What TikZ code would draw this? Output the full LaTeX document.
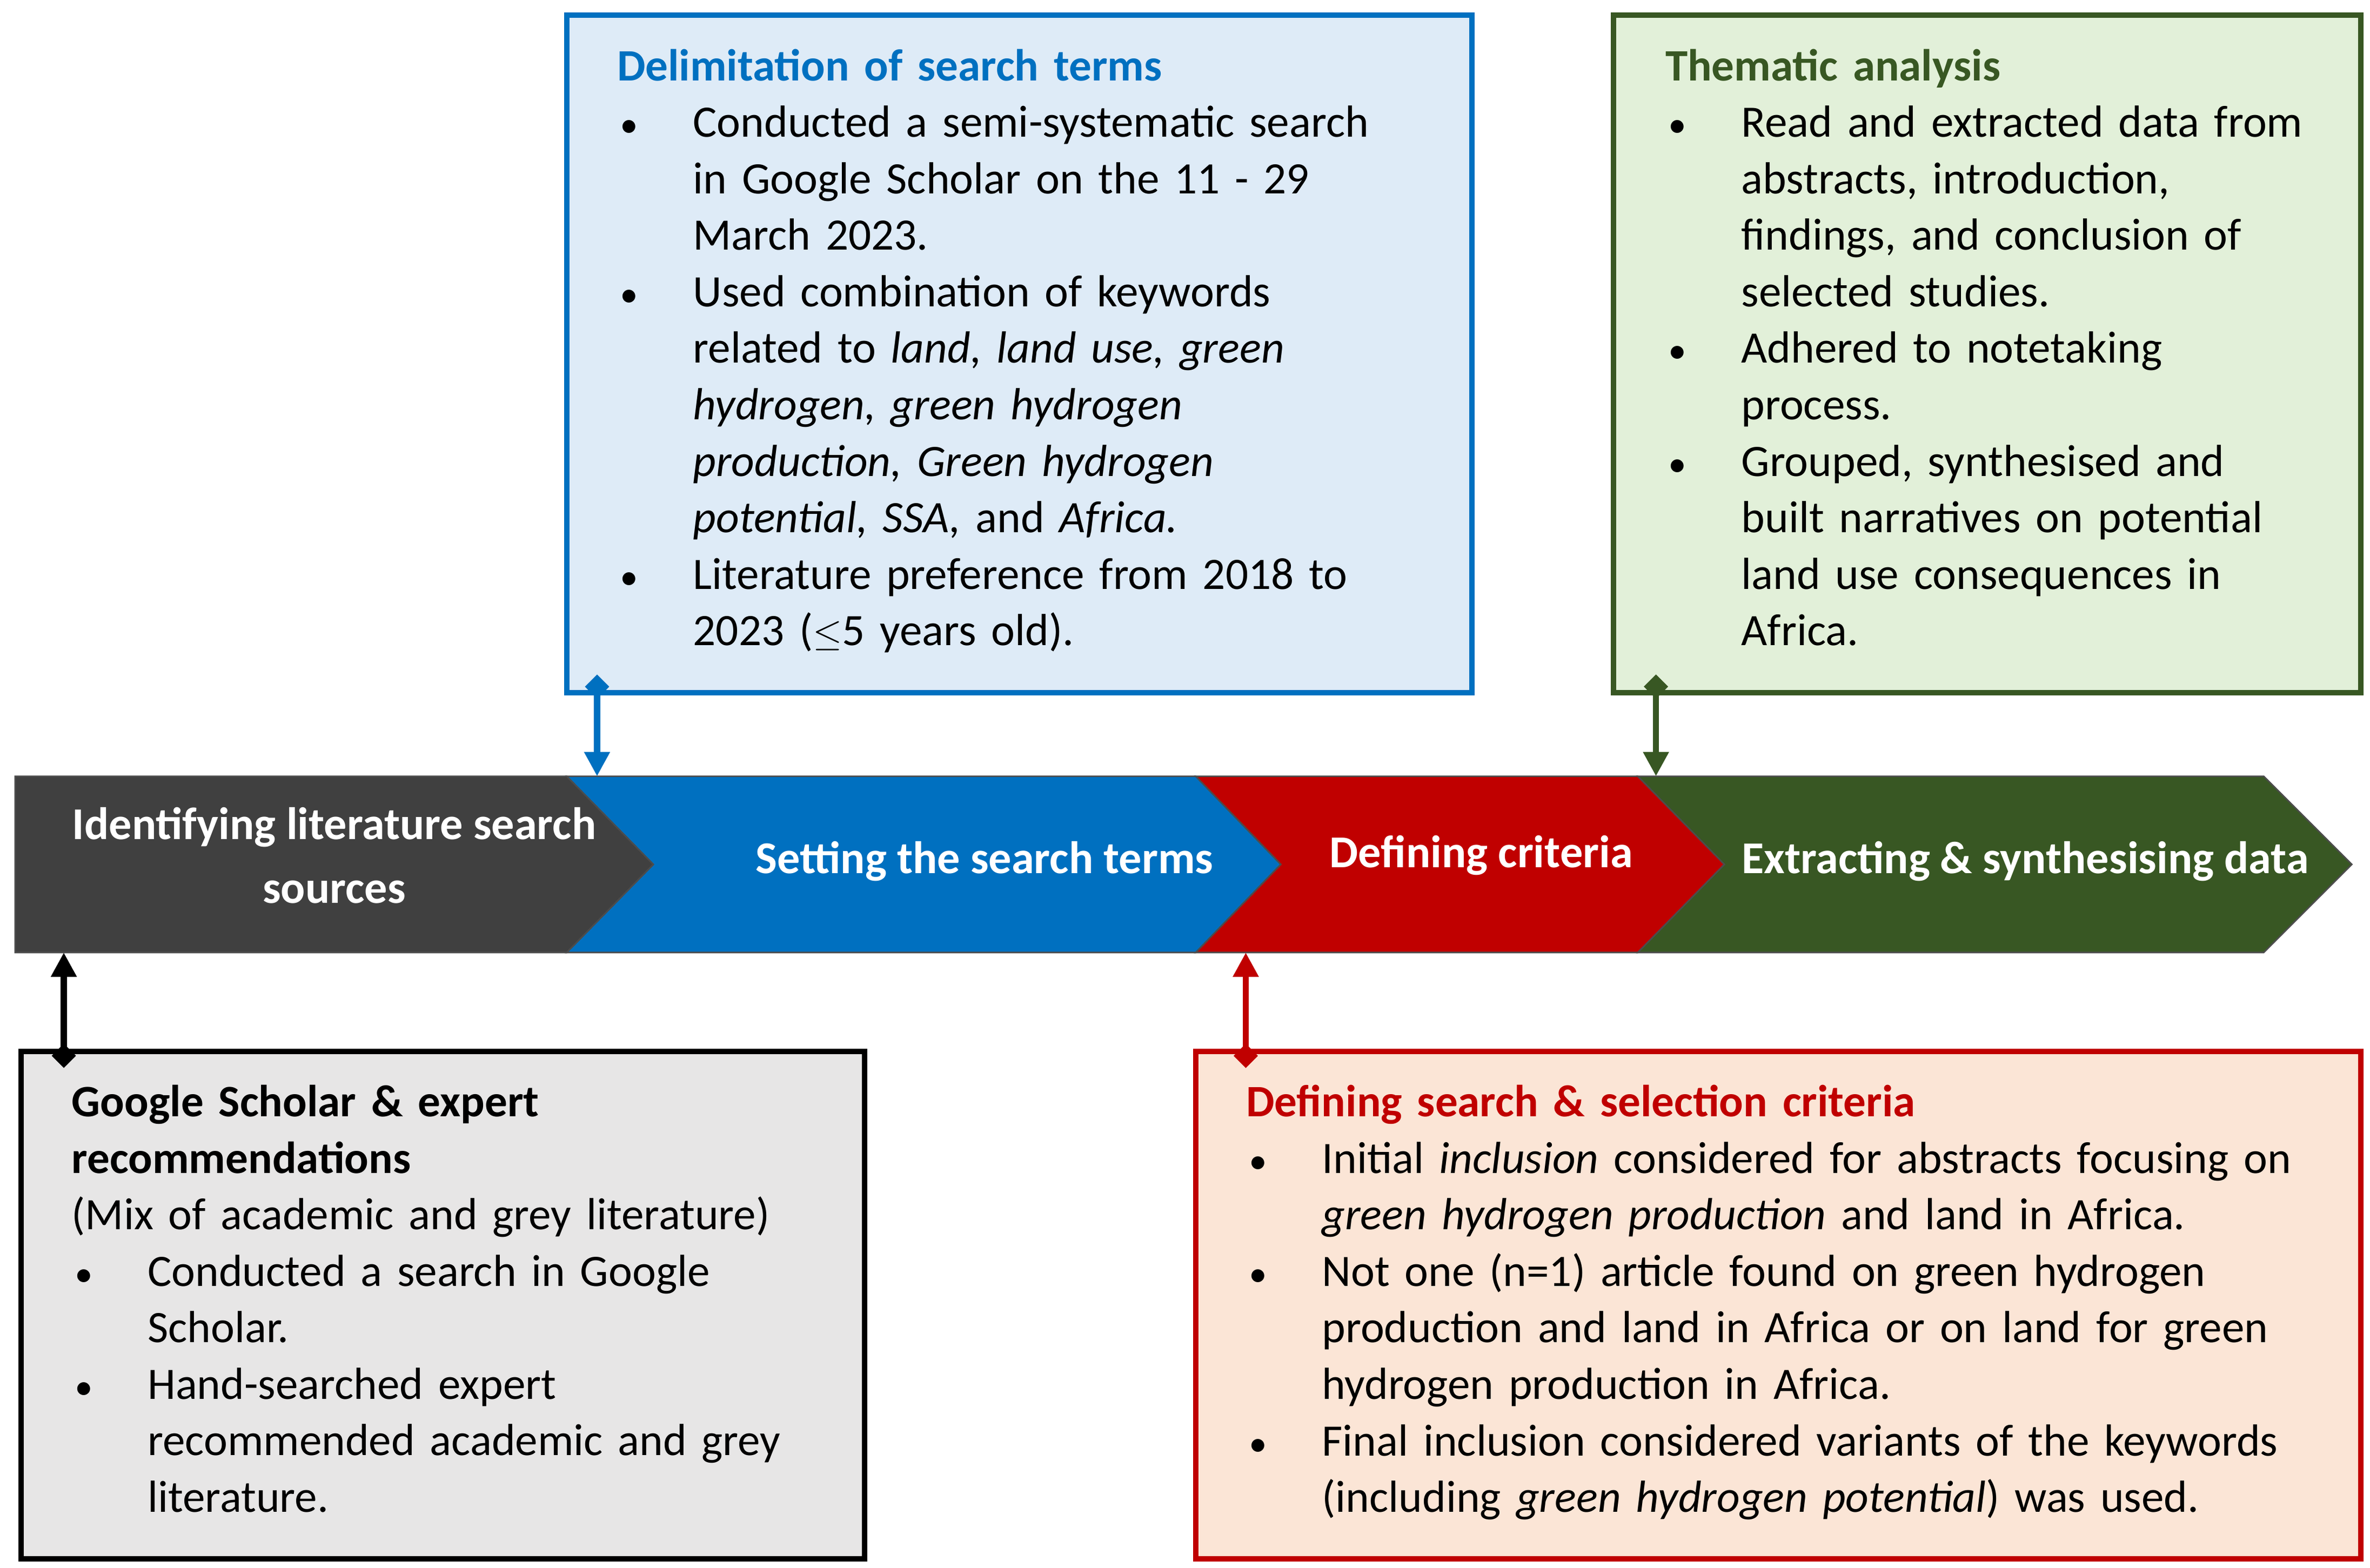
\documentclass[tikz,border=0pt]{standalone}
\usepackage{fontspec}
\setmainfont{Carlito}
\usetikzlibrary{arrows.meta}
\definecolor{cblue}{RGB}{0,112,192}
\definecolor{lblue}{RGB}{222,235,247}
\definecolor{cgreen}{RGB}{56,87,35}
\definecolor{lgreen}{RGB}{226,240,217}
\definecolor{cred}{RGB}{192,0,0}
\definecolor{lred}{RGB}{251,229,214}
\definecolor{cgrey}{RGB}{64,64,64}
\definecolor{lgrey}{RGB}{231,230,230}
\newcommand{\bit}[1]{\noindent\hangindent=50pt\hangafter=1\makebox[50pt][l]{\hspace{2pt}{\fontsize{24}{24}\selectfont\textbullet}}#1\par}
\tikzset{
 box/.style={line width=3.5pt},
 txt/.style={anchor=north west,inner sep=0pt,text width=760pt,font=\fontsize{29.6}{37.2}\selectfont},
 band/.style={draw=black!70,line width=1pt},
 blab/.style={text=white,font=\bfseries\fontsize{30}{42}\selectfont,align=center,inner sep=0pt},
 con/.style={line width=4pt,{Diamond[length=16pt,width=16pt]}-{Triangle[length=16pt,width=16pt]}},
}
\begin{document}
\begin{tikzpicture}[x=1pt,y=-1pt]
\useasboundingbox (0,0) rectangle (1560,1032);
% boxes
\draw[box,draw=cblue,fill=lblue] (373,10) rectangle (969,456);
\draw[box,draw=cgreen,fill=lgreen] (1062,10) rectangle (1554,456);
\draw[box,draw=black,fill=lgrey] (14,692) rectangle (569,1026);
\draw[box,draw=cred,fill=lred] (787,692) rectangle (1554,1026);
% band
\draw[band,fill=cgreen] (1078,511) -- (1490,511) -- (1548,569) -- (1490,627) -- (1078,627) -- (1135,569) -- cycle;
\draw[band,fill=cred] (787,511) -- (1078,511) -- (1135,569) -- (1078,627) -- (787,627) -- (843,569) -- cycle;
\draw[band,fill=cblue] (373,511) -- (787,511) -- (843,569) -- (787,627) -- (373,627) -- (430,569) -- cycle;
\draw[band,fill=cgrey] (10,511) -- (373,511) -- (430,569) -- (373,627) -- (10,627) -- cycle;
\node[blab] (s1) at (220,563) {Identifying literature search\\sources};
\node[blab] (s2) at (648,567) {Setting the search terms};
\node[blab] (s3) at (975,563) {Defining criteria};
\node[blab] (s4) at (1333,567) {Extracting \& synthesising data};
% texts
\node[txt] (t1) at (406,32) {\raggedright{\color{cblue}\bfseries Delimitation of search terms}\par
\bit{Conducted a semi-systematic search\newline in Google Scholar on the 11 - 29\newline March 2023.}
\bit{Used combination of keywords\newline related to \textit{land, land use, green}\newline \textit{hydrogen, green hydrogen}\newline \textit{production, Green hydrogen}\newline \textit{potential, SSA,} and \textit{Africa.}}
\bit{Literature preference from 2018 to\newline 2023 ($\leq$5 years old).}};
\node[txt] (t2) at (1096,32) {\raggedright{\color{cgreen}\bfseries Thematic analysis}\par
\bit{Read and extracted data from\newline abstracts, introduction,\newline findings, and conclusion of\newline selected studies.}
\bit{Adhered to notetaking\newline process.}
\bit{Grouped, synthesised and\newline built narratives on potential\newline land use consequences in\newline Africa.}};
\node[txt] (t3) at (47,714) {\raggedright{\bfseries Google Scholar \& expert\newline recommendations}\par
(Mix of academic and grey literature)\par
\bit{Conducted a search in Google\newline Scholar.}
\bit{Hand-searched expert\newline recommended academic and grey\newline literature.}};
\node[txt] (t4) at (820,714) {\raggedright{\color{cred}\bfseries Defining search \& selection criteria}\par
\bit{Initial \textit{inclusion} considered for abstracts focusing on\newline \textit{green hydrogen production} and land in Africa.}
\bit{Not one (n=1) article found on green hydrogen\newline production and land in Africa or on land for green\newline hydrogen production in Africa.}
\bit{Final inclusion considered variants of the keywords\newline (including \textit{green hydrogen potential}) was used.}};
% connector ends
\coordinate (a1) at (393,444); \coordinate (b1) at (393,511);
\coordinate (a2) at (1090,444); \coordinate (b2) at (1090,511);
\coordinate (a3) at (42,703); \coordinate (b3) at (42,627);
\coordinate (a4) at (820,703); \coordinate (b4) at (820,627);
\draw[con,draw=cblue,fill=cblue] (a1) -- (b1);
\draw[con,draw=cgreen,fill=cgreen] (a2) -- (b2);
\draw[con,draw=black,fill=black] (a3) -- (b3);
\draw[con,draw=cred,fill=cred] (a4) -- (b4);
\end{tikzpicture}
\end{document}
